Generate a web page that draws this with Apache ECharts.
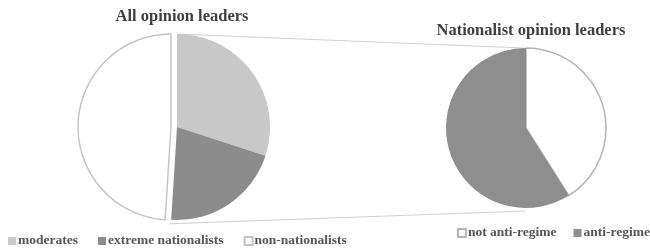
<!DOCTYPE html>
<html>
<head>
<meta charset="utf-8">
<title>opinion leaders</title>
<script src="https://cdn.jsdelivr.net/npm/echarts@6/dist/echarts.min.js"></script>
<style>
    html, body { margin: 0; padding: 0; background: #fff; }
    #chart { width: 650px; height: 251px; }
</style>
</head>
<body>
<div id="chart"></div>
<script>
// 数据
var allNames = ['moderates', 'extreme nationalists', 'non-nationalists'];
var allValues = [30, 21, 49];
var allColors = ['#c8c8c8', '#8c8c8c', '#ffffff'];

var natNames = ['not anti-regime', 'anti-regime'];
var natValues = [41, 59];
var natColors = ['#ffffff', '#8e8e8e'];

// 布局
var leftCenter = [171, 127];
var explode = 6;
var leftR = 93;
var rightCenter = [526, 128];
var rightR = 80;

var fontFamily = '"Liberation Serif", "DejaVu Serif", serif';

var chart = echarts.init(document.getElementById('chart'));

// 左边饼图: 前两块作为一组往右移
function leftData(group) {
    var list = [];
    for (var i = 0; i < allNames.length; i++) {
        var inGroup = i < 2;
        if (inGroup === group) {
            list.push({
                name: allNames[i],
                value: allValues[i],
                itemStyle: {
                    color: allColors[i],
                    borderColor: i === 2 ? '#c4c4c4' : allColors[i],
                    borderWidth: i === 2 ? 1.5 : 0
                }
            });
        } else {
            list.push({
                name: 'gap' + i,
                value: allValues[i],
                itemStyle: { color: 'rgba(0,0,0,0)', borderWidth: 0 }
            });
        }
    }
    return list;
}

var natData = [];
for (var j = 0; j < natNames.length; j++) {
    natData.push({
        name: natNames[j],
        value: natValues[j],
        itemStyle: {
            color: natColors[j],
            borderColor: j === 0 ? '#b4b4b4' : natColors[j],
            borderWidth: j === 0 ? 1.5 : 0
        }
    });
}

// 连接线
var rad = (allValues[0] + allValues[1]) / 100 * Math.PI * 2;
var gx = leftCenter[0] + explode;
var topLeft = [gx, leftCenter[1] - leftR];
var botLeft = [gx + leftR * Math.sin(rad) - 2, leftCenter[1] - leftR * Math.cos(rad) + 4];
var topRight = [rightCenter[0] - 2, rightCenter[1] - rightR];
var botRight = [rightCenter[0], rightCenter[1] + rightR + 3];

var pieBase = {
    type: 'pie',
    startAngle: 90,
    clockwise: true,
    label: { show: false },
    labelLine: { show: false },
    silent: true,
    animation: false
};

var titleStyle = { fontFamily: fontFamily, fontSize: 16.5, fontWeight: 'bold', color: '#3f3f3f' };
var legendText = { fontFamily: fontFamily, fontSize: 13.5, fontWeight: 'bold', color: '#555', padding: [0, 0, 0, -3] };

chart.setOption({
    backgroundColor: '#fff',
    title: [
        {
            text: 'All opinion leaders',
            left: 177,
            top: 3,
            textAlign: 'center',
            textStyle: titleStyle
        },
        {
            text: 'Nationalist opinion leaders',
            left: 526,
            top: 17,
            textAlign: 'center',
            textStyle: titleStyle
        }
    ],
    legend: [
        {
            data: allNames,
            left: 8,
            top: 234,
            padding: 0,
            icon: 'rect',
            itemWidth: 8,
            itemHeight: 8,
            itemGap: 20,
            selectedMode: false,
            textStyle: legendText
        },
        {
            data: natNames,
            right: 0,
            top: 226,
            padding: 0,
            icon: 'rect',
            itemWidth: 8,
            itemHeight: 8,
            itemGap: 17,
            selectedMode: false,
            textStyle: legendText
        }
    ],
    graphic: [
        {
            type: 'line',
            shape: { x1: topLeft[0], y1: topLeft[1], x2: topRight[0], y2: topRight[1] },
            style: { stroke: '#d0d0d0', lineWidth: 1 },
            z: 0
        },
        {
            type: 'line',
            shape: { x1: botLeft[0], y1: botLeft[1], x2: botRight[0], y2: botRight[1] },
            style: { stroke: '#d0d0d0', lineWidth: 1 },
            z: 0
        }
    ],
    series: [
        Object.assign({}, pieBase, {
            name: 'non',
            center: leftCenter,
            radius: [0, leftR],
            data: leftData(false)
        }),
        Object.assign({}, pieBase, {
            name: 'nationalists',
            center: [gx, leftCenter[1]],
            radius: [0, leftR],
            data: leftData(true)
        }),
        Object.assign({}, pieBase, {
            name: 'nationalist leaders',
            center: rightCenter,
            radius: [0, rightR],
            data: natData
        })
    ]
});
</script>
</body>
</html>
